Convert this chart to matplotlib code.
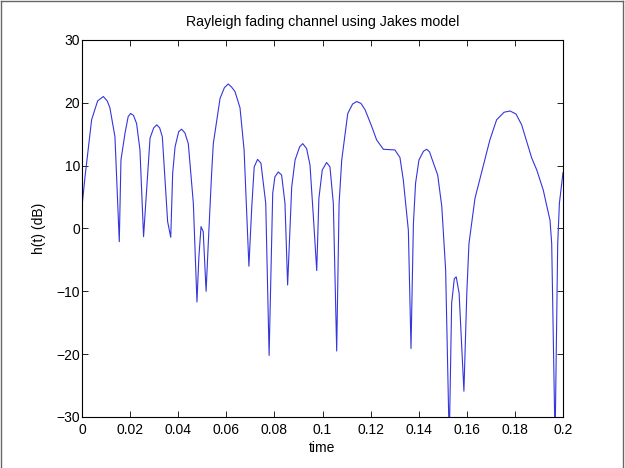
import matplotlib
matplotlib.use("Agg")
import matplotlib.pyplot as plt
from matplotlib.lines import Line2D

# fading envelope in dB
t = [0.0, 0.00125, 0.004, 0.0065, 0.00886, 0.0105, 0.0116, 0.0137, 0.0155,
     0.0162, 0.0179, 0.0192, 0.0202, 0.0214, 0.0227, 0.0241, 0.0256,
     0.0265, 0.0283, 0.0298, 0.0311, 0.0323, 0.0334, 0.0356, 0.0369,
     0.0377, 0.0387, 0.0402, 0.0414, 0.0428, 0.0442, 0.0463, 0.0478,
     0.0486, 0.0495, 0.0504, 0.0516,
     0.0525, 0.0539, 0.0546, 0.0574, 0.0592, 0.0608, 0.0622, 0.0636, 0.0657, 0.0674, 0.0694,
     0.0706, 0.0716, 0.073, 0.0744, 0.0764, 0.0778,
     0.0793, 0.0802, 0.0816, 0.083, 0.0844, 0.0855,
     0.0872, 0.0886, 0.0905, 0.0918, 0.0934, 0.0948, 0.0962, 0.0976,
     0.0985, 0.0999, 0.1017, 0.1031, 0.1045, 0.1059,
     0.1069, 0.108, 0.1105, 0.1125, 0.1142, 0.116, 0.1177, 0.1205, 0.1225, 0.1253, 0.1301,
     0.1322, 0.1336, 0.1357, 0.1368,
     0.1378, 0.1387, 0.1401, 0.142, 0.1433, 0.1445, 0.1454, 0.1479, 0.1496, 0.1512, 0.1527,
     0.1537, 0.1548, 0.1556, 0.1568, 0.1588,
     0.16, 0.1609, 0.1634, 0.1664, 0.1696, 0.1724, 0.1755, 0.178, 0.1805, 0.1828, 0.187,
     0.1891, 0.1918, 0.1946, 0.1953, 0.1967,
     0.1978, 0.1985, 0.2]
h_db = [3.5, 8.2, 17.3, 20.3, 21.0, 20.3, 19.2, 14.6, -2.1,
        10.9, 15.2, 17.8, 18.3, 18.0, 16.7, 12.5, -1.3,
        4.0, 14.4, 16.0, 16.5, 16.0, 14.6, 1.1, -1.4,
        8.8, 13.0, 15.4, 15.8, 15.2, 13.5, 4.0, -11.7,
        -4.5, 0.3, -0.5, -10.0,
        -2.4, 8.8, 13.5, 20.7, 22.4, 23.0, 22.5, 21.8, 19.2, 12.5, -6.0,
        3.5, 9.8, 11.0, 10.4, 4.0, -20.2,
        5.6, 8.2, 9.0, 8.5, 4.0, -9.0,
        6.6, 10.9, 13.0, 13.5, 12.7, 10.1, 1.9, -6.7,
        4.8, 9.3, 10.5, 9.8, 4.0, -19.5,
        4.0, 10.9, 18.3, 19.8, 20.2, 19.9, 18.9, 16.2, 14.1, 12.6, 12.5,
        11.3, 7.7, -0.3, -19.1,
        0.8, 7.2, 10.9, 12.3, 12.6, 12.2, 11.2, 8.5, 3.5, -6.6, -34.0,
        -11.9, -8.0, -7.7, -10.3, -25.9,
        -10.3, -2.4, 4.8, 9.3, 14.1, 17.3, 18.5, 18.7, 18.2, 16.5, 11.2,
        9.3, 6.1, 1.3, -2.4, -34.0,
        -2.4, 4.0, 8.9]

xticks = [0, 0.02, 0.04, 0.06, 0.08, 0.1, 0.12, 0.14, 0.16, 0.18, 0.2]
xticklabels = ["0", "0.02", "0.04", "0.06", "0.08", "0.1", "0.12", "0.14", "0.16", "0.18", "0.2"]
yticks = [-30, -20, -10, 0, 10, 20, 30]

plt.rcParams['font.family'] = ['Liberation Sans', 'DejaVu Sans']

fig = plt.figure(figsize=(6.25, 4.68), dpi=100)
ax = fig.add_axes([0.1312, 0.109, 0.7696, 0.8056])
ax.plot(t, h_db, color="#3535dd", linewidth=0.8)

ax.set_xlim(0, 0.2)
ax.set_ylim(-30, 30)
ax.set_xticks(xticks)
ax.set_xticklabels(xticklabels)
ax.set_yticks(yticks)
ax.tick_params(direction="in", top=True, right=True, labelsize=10, length=4, width=0.6)
ax.tick_params(axis="x", pad=4)
ax.tick_params(axis="y", pad=1.5)
for s in ax.spines.values():
    s.set_linewidth(0.8)

ax.set_title("Rayleigh fading channel using Jakes model", fontsize=10.2, pad=10)
ax.set_xlabel("time", fontsize=10, labelpad=3)
ax.set_ylabel("h(t) (dB)", fontsize=10, labelpad=7)

# outer frame of the original screenshot
for xs, ys in [([0.002, 0.002], [0, 0.997]), ([0.002, 0.996], [0.997, 0.997]), ([0.996, 0.996], [0, 0.997])]:
    fig.add_artist(Line2D(xs, ys, color="#666666", linewidth=1.0))

fig.savefig("out.png", dpi=100)
